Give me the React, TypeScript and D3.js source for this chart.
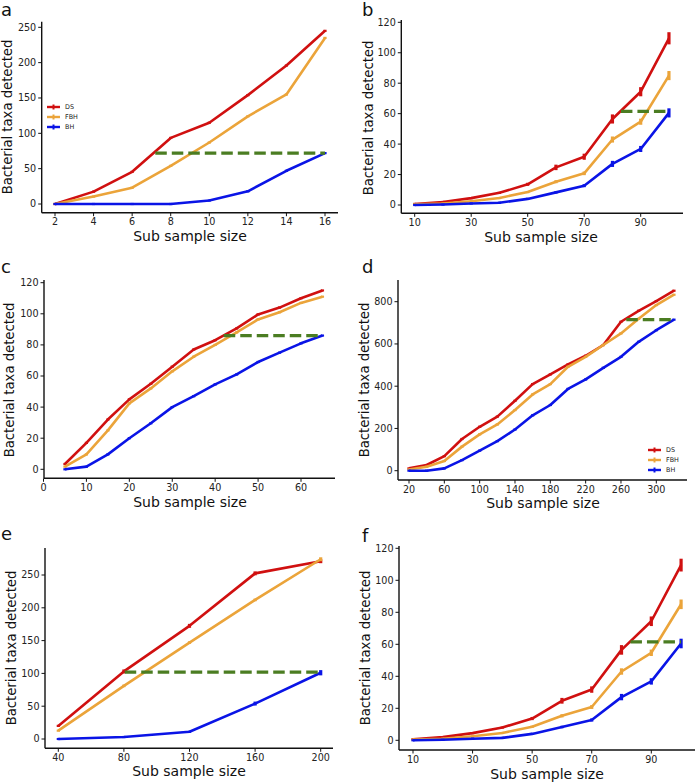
import React from 'react';
import * as d3 from 'd3';

// ---------- DATA ----------
const seriesNames = ['DS', 'FBH', 'BH'];
const seriesColors = ['#d01010', '#eba43a', '#0a14e6'];
const refColor = '#4b7d22';

// panel a
const xA = [2, 4, 6, 8, 10, 12, 14, 16];
const dsA = [0, 17.5, 45.5, 93.5, 115, 154, 196, 245];
const fbhA = [0, 10.5, 23, 54, 87, 124, 155, 235];
const bhA = [0, 0, 0, 0, 5, 18, 47, 72];
const errA = [0.5, 1, 1, 1.5, 1.5, 1.5, 1.5, 1.5];
const refA = { from: 7.2, value: 72 };

// panel b (and f)
const xB = [10, 20, 30, 40, 50, 60, 70, 80, 90, 100];
const dsB = [0.7, 2, 4.5, 8, 13.6, 24.7, 31.7, 56.5, 74.4, 109.5];
const fbhB = [0.5, 1, 2.5, 4.6, 8.5, 15.3, 20.8, 43, 54.7, 85];
const bhB = [0, 0.3, 1, 1.5, 4, 8.3, 12.7, 27, 36.8, 60.5];
const errDsB = [0.3, 0.3, 0.5, 0.6, 1, 1.8, 2, 3, 3, 4];
const errFbhB = [0.2, 0.2, 0.3, 0.4, 0.6, 1, 1.2, 2, 2, 3];
const errBhB = [0.1, 0.1, 0.2, 0.3, 0.4, 0.8, 1, 2, 2, 3];
const refB = { from: 83, value: 61.5 };

// panel c
const xC = [5, 10, 15, 20, 25, 30, 35, 40, 45, 50, 55, 60, 65];
const dsC = [3.4, 17, 32, 45, 55, 66, 77, 83, 90.6, 99.6, 104, 110, 115];
const fbhC = [1.7, 9.6, 25, 42.4, 52, 63, 72.4, 80, 88, 96.4, 101, 107, 111];
const bhC = [0, 1.7, 9.6, 20, 29.6, 40, 47, 54.6, 61, 69, 75, 81, 86];
const errC = [0.5, 0.5, 0.5, 0.5, 0.5, 0.5, 0.5, 0.5, 0.5, 0.5, 0.5, 0.5, 0.5];
const refC = { from: 42, value: 86 };

// panel d
const xD = [20, 40, 60, 80, 100, 120, 140, 160, 180, 200, 220, 240, 260, 280, 300, 320];
const dsD = [11, 27, 69, 150, 208, 256, 331, 410, 456, 503, 544, 595, 705, 757, 803, 852];
const fbhD = [6, 19, 46, 114, 172, 219, 287, 361, 410, 492, 539, 595, 650, 719, 784, 833];
const bhD = [0, 0, 11, 50, 95, 140, 195, 262, 311, 387, 432, 487, 539, 610, 665, 715];
const errD = [2, 2, 3, 3, 3, 3, 3, 3, 3, 3, 3, 3, 4, 4, 4, 4];
const refD = { from: 266, value: 715 };

// panel e
const xE = [40, 80, 120, 160, 200];
const dsE = [20, 103, 172.5, 252.5, 271];
const fbhE = [12.7, 81, 147, 212, 274];
const bhE = [0, 3, 11, 54, 101];
const errDsE = [1.5, 3, 3, 3, 3];
const errFbhE = [1, 2, 2, 2, 3];
const errBhE = [0.5, 1, 1, 3, 4];
const refE = { from: 80.5, value: 102 };

// tick values
const ticksXA = [2, 4, 6, 8, 10, 12, 14, 16];
const ticksYA = [0, 50, 100, 150, 200, 250];
const ticksXB = [10, 30, 50, 70, 90];
const ticksYB = [0, 20, 40, 60, 80, 100, 120];
const ticksXC = [0, 10, 20, 30, 40, 50, 60];
const ticksYC = [0, 20, 40, 60, 80, 100, 120];
const ticksXD = [20, 60, 100, 140, 180, 220, 260, 300];
const ticksYD = [0, 200, 400, 600, 800];
const ticksXE = [40, 80, 120, 160, 200];
const ticksYE = [0, 50, 100, 150, 200, 250];

const xLabel = 'Sub sample size';
const yLabel = 'Bacterial taxa detected';

// ---------- LAYOUT ----------
type PanelCfg = {
  letter: string;
  x: number[];
  series: number[][];
  errs: number[][];
  ref: { from: number; value: number };
  ticksX: number[];
  ticksY: number[];
  xDom: [number, number];
  xRng: [number, number];
  yDom: [number, number];
  yRng: [number, number];
  axL: number;
  axB: number;
  yTop: number;
  xRight: number;
  xLab: [number, number];
  yLab: [number, number];
  letterPos: [number, number];
  legend?: [number, number];
};

const panels: PanelCfg[] = [
  {
    letter: 'a', x: xA, series: [dsA, fbhA, bhA], errs: [errA, errA, errA], ref: refA,
    ticksX: ticksXA, ticksY: ticksYA,
    xDom: [2, 16], xRng: [55, 325], yDom: [0, 250], yRng: [204, 27.3],
    axL: 41.7, axB: 212.7, yTop: 21.7, xRight: 338,
    xLab: [190, 236], yLab: [7, 117], letterPos: [1, 16], legend: [47, 107],
  },
  {
    letter: 'b', x: xB, series: [dsB, fbhB, bhB], errs: [errDsB, errFbhB, errBhB], ref: refB,
    ticksX: ticksXB, ticksY: ticksYB,
    xDom: [10, 90], xRng: [414.7, 640.7], yDom: [0, 120], yRng: [205, 22.3],
    axL: 401.3, axB: 213.3, yTop: 20, xRight: 683,
    xLab: [541, 237], yLab: [368, 118], letterPos: [362, 16],
  },
  {
    letter: 'c', x: xC, series: [dsC, fbhC, bhC], errs: [errC, errC, errC], ref: refC,
    ticksX: ticksXC, ticksY: ticksYC,
    xDom: [0, 60], xRng: [43.5, 301], yDom: [0, 120], yRng: [469.3, 282.7],
    axL: 44, axB: 478.3, yTop: 280, xRight: 335,
    xLab: [190, 501.7], yLab: [9.3, 380], letterPos: [1, 273],
  },
  {
    letter: 'd', x: xD, series: [dsD, fbhD, bhD], errs: [errD, errD, errD], ref: refD,
    ticksX: ticksXD, ticksY: ticksYD,
    xDom: [20, 300], xRng: [409, 656.3], yDom: [0, 800], yRng: [470.7, 301.7],
    axL: 398, axB: 480, yTop: 280, xRight: 687,
    xLab: [543, 503], yLab: [364, 380], letterPos: [362, 273], legend: [648, 450],
  },
  {
    letter: 'e', x: xE, series: [dsE, fbhE, bhE], errs: [errDsE, errFbhE, errBhE], ref: refE,
    ticksX: ticksXE, ticksY: ticksYE,
    xDom: [40, 200], xRng: [58.3, 320.7], yDom: [0, 250], yRng: [739, 575],
    axL: 45, axB: 748.3, yTop: 548, xRight: 333,
    xLab: [189, 770.7], yLab: [11, 648], letterPos: [1, 540],
  },
  {
    letter: 'f', x: xB, series: [dsB, fbhB, bhB], errs: [errDsB, errFbhB, errBhB], ref: refB,
    ticksX: ticksXB, ticksY: ticksYB,
    xDom: [10, 90], xRng: [413, 651.3], yDom: [0, 120], yRng: [740.3, 548.3],
    axL: 399, axB: 750, yTop: 546, xRight: 695,
    xLab: [547, 774], yLab: [364.7, 648], letterPos: [362, 542],
  },
];

const FONT = '"DejaVu Sans", sans-serif';

function Panel({ p }: { p: PanelCfg }) {
  const xs = d3.scaleLinear().domain(p.xDom).range(p.xRng);
  const ys = d3.scaleLinear().domain(p.yDom).range(p.yRng);
  const line = d3
    .line<[number, number]>()
    .x((d) => xs(d[0]))
    .y((d) => ys(d[1]));
  const xmax = p.x[p.x.length - 1];
  return (
    <g>
      {p.series.map((vals, si) => (
        <g key={si}>
          <path
            d={line(p.x.map((xv, i) => [xv, vals[i]]) as [number, number][]) || ''}
            fill="none"
            stroke={seriesColors[si]}
            strokeWidth={2.6}
            strokeLinejoin="round"
          />
          {p.x.map((xv, i) => (
            <line
              key={i}
              x1={xs(xv)}
              x2={xs(xv)}
              y1={Math.max(ys(vals[i] - p.errs[si][i]), ys(vals[i]) + 1.1)}
              y2={Math.min(ys(vals[i] + p.errs[si][i]), ys(vals[i]) - 1.1)}
              stroke={seriesColors[si]}
              strokeWidth={3.2}
            />
          ))}
        </g>
      ))}
      <line
        x1={xs(p.ref.from)}
        x2={xs(xmax)}
        y1={ys(p.ref.value)}
        y2={ys(p.ref.value)}
        stroke={refColor}
        strokeWidth={3.2}
        strokeDasharray="11.5,5"
      />
      {/* axes */}
      <line x1={p.axL} x2={p.axL} y1={p.yTop} y2={p.axB} stroke="#111" strokeWidth={1.4} />
      <line x1={p.axL} x2={p.xRight} y1={p.axB} y2={p.axB} stroke="#111" strokeWidth={1.4} />
      {p.ticksX.map((t) => (
        <g key={'x' + t}>
          <line x1={xs(t)} x2={xs(t)} y1={p.axB} y2={p.axB + 3.5} stroke="#111" strokeWidth={1} />
          <text
            x={xs(t)}
            y={p.axB + 12.6}
            textAnchor="middle"
            fontSize={9.6}
            fontFamily={FONT}
            fill="#222"
          >
            {t}
          </text>
        </g>
      ))}
      {p.ticksY.map((t) => (
        <g key={'y' + t}>
          <line x1={p.axL - 3.5} x2={p.axL} y1={ys(t)} y2={ys(t)} stroke="#111" strokeWidth={1} />
          <text
            x={p.axL - 5.5}
            y={ys(t) + 3.4}
            textAnchor="end"
            fontSize={9.6}
            fontFamily={FONT}
            fill="#222"
          >
            {t}
          </text>
        </g>
      ))}
      <text
        x={p.xLab[0]}
        y={p.xLab[1] + 5}
        textAnchor="middle"
        fontSize={14}
        fontFamily={FONT}
        fill="#111"
      >
        {xLabel}
      </text>
      <text
        transform={`translate(${p.yLab[0] + 5},${p.yLab[1]}) rotate(-90)`}
        textAnchor="middle"
        fontSize={13.2}
        fontFamily={FONT}
        fill="#111"
      >
        {yLabel}
      </text>
      <text x={p.letterPos[0]} y={p.letterPos[1]} fontSize={18} fontFamily={FONT} fill="#111">
        {p.letter}
      </text>
      {p.legend &&
        seriesNames.map((n, i) => {
          const lx = p.legend![0];
          const ly = p.legend![1] + i * 10;
          return (
            <g key={n}>
              <line x1={lx} x2={lx + 13} y1={ly} y2={ly} stroke={seriesColors[i]} strokeWidth={2.4} />
              <line x1={lx + 6.5} x2={lx + 6.5} y1={ly - 2.5} y2={ly + 2.5} stroke={seriesColors[i]} strokeWidth={2} />
              <text x={lx + 18} y={ly + 2.3} fontSize={6.4} fontFamily={FONT} fill="#222">
                {n}
              </text>
            </g>
          );
        })}
    </g>
  );
}

export default function App() {
  return (
    <svg
      width={696}
      height={782}
      style={{ position: 'absolute', left: 0, top: 0, background: '#fff' }}
    >
      <rect width={696} height={782} fill="#fff" />
      {panels.map((p) => (
        <Panel key={p.letter} p={p} />
      ))}
    </svg>
  );
}
